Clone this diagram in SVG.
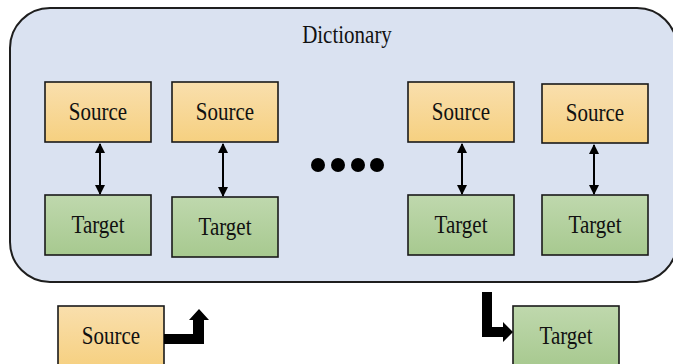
<svg xmlns="http://www.w3.org/2000/svg" width="673" height="364" viewBox="0 0 673 364">
  <defs>
    <linearGradient id="gSrc" x1="0" y1="0" x2="0" y2="1">
      <stop offset="0" stop-color="#f9dfad"/>
      <stop offset="1" stop-color="#f6d080"/>
    </linearGradient>
    <linearGradient id="gTgt" x1="0" y1="0" x2="0" y2="1">
      <stop offset="0" stop-color="#bfd8ad"/>
      <stop offset="1" stop-color="#a7c98f"/>
    </linearGradient>
    <marker id="tip" viewBox="0 0 10 10" refX="9" refY="5" markerWidth="5" markerHeight="5" orient="auto-start-reverse">
      <path d="M0,0 L10,5 L0,10 z" fill="#000"/>
    </marker>
  </defs>
  <style>
    .box { stroke: #1a1a1a; stroke-width: 1.6; }
    .src { fill: url(#gSrc); }
    .tgt { fill: url(#gTgt); }
    .lbl { font-family: "Liberation Serif", "Times New Roman", serif; font-size: 21px; fill: #111; text-anchor: middle; }
    .link { stroke: #000; stroke-width: 2; fill: none; marker-start: url(#tip); marker-end: url(#tip); }
    .flow { fill: #000; }
  </style>

  <!-- dictionary container -->
  <g id="dictionary">
    <rect x="10" y="8" width="667" height="274" rx="40" ry="40" fill="#dae2f1" stroke="#1e1e1e" stroke-width="2"/>
    <text class="lbl" transform="translate(347,43) scale(1,1.15)" font-size="20">Dictionary</text>
  </g>

  <!-- source / target pairs -->
  <g id="source1"><rect class="box src" x="45" y="82" width="106" height="60"/><text class="lbl" transform="translate(98,120) scale(1,1.18)">Source</text></g>
  <g id="source2"><rect class="box src" x="172" y="82" width="106" height="60"/><text class="lbl" transform="translate(225,120) scale(1,1.18)">Source</text></g>
  <g id="source3"><rect class="box src" x="408" y="82" width="106" height="60"/><text class="lbl" transform="translate(461,120) scale(1,1.18)">Source</text></g>
  <g id="source4"><rect class="box src" x="542" y="84" width="106" height="59"/><text class="lbl" transform="translate(595,121) scale(1,1.18)">Source</text></g>

  <g id="target1"><rect class="box tgt" x="45" y="195" width="106" height="60"/><text class="lbl" transform="translate(98,233) scale(1,1.18)">Target</text></g>
  <g id="target2"><rect class="box tgt" x="172" y="197" width="106" height="60"/><text class="lbl" transform="translate(225,235) scale(1,1.18)">Target</text></g>
  <g id="target3"><rect class="box tgt" x="408" y="195" width="106" height="60"/><text class="lbl" transform="translate(461,233) scale(1,1.18)">Target</text></g>
  <g id="target4"><rect class="box tgt" x="542" y="195" width="106" height="60"/><text class="lbl" transform="translate(595,233) scale(1,1.18)">Target</text></g>

  <!-- ellipsis -->
  <g id="ellipsis" fill="#000">
    <circle cx="318" cy="165" r="7"/>
    <circle cx="338" cy="165" r="7"/>
    <circle cx="358" cy="165" r="7"/>
    <circle cx="377" cy="165" r="7"/>
  </g>

  <!-- query source and resulting target -->
  <g id="querySource"><rect class="box src" x="58" y="306" width="106" height="62"/><text class="lbl" transform="translate(111,344) scale(1,1.18)">Source</text></g>
  <g id="resultTarget"><rect class="box tgt" x="513" y="306" width="106" height="62"/><text class="lbl" transform="translate(566,344) scale(1,1.18)">Target</text></g>

  <!-- connectors -->
  <g id="connectors">
    <line class="link" x1="100" y1="144" x2="100" y2="194"/>
    <line class="link" x1="223" y1="144" x2="223" y2="196"/>
    <line class="link" x1="462" y1="144" x2="462" y2="194"/>
    <line class="link" x1="594" y1="145" x2="594" y2="194"/>
    <!-- bent block arrow leaving the query source -->
    <path class="flow" d="M164,334 L193,334 L193,320 L189,320 L199,309 L209,320 L204,320 L204,344 L164,344 z"/>
    <!-- bent block arrow into the result target -->
    <path class="flow" d="M482,292 L492,292 L492,327 L503,327 L503,322 L513,332 L503,342 L503,337 L482,337 z"/>
  </g>
</svg>
